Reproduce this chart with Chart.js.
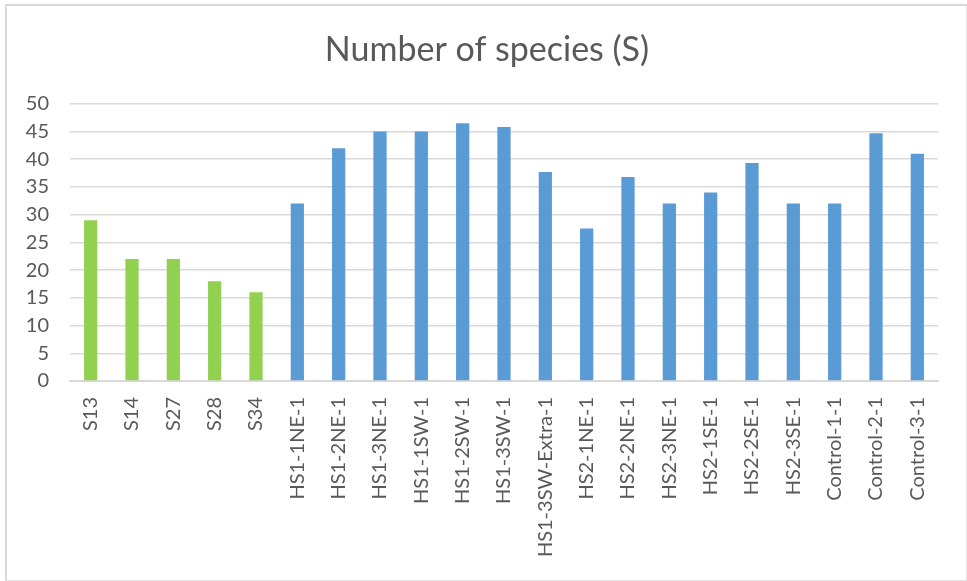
<!DOCTYPE html>
<html lang="en">
<head>
    <meta charset="UTF-8">
    <title>Number of species (S)</title>
    <script src="https://cdn.jsdelivr.net/npm/chart.js"></script>
    <style>
        body {
            margin: 0;
            background-color: white;
        }
        .wrap {
            position: relative;
            width: 967px;
            height: 581px;
        }
        .frame {
            position: absolute;
            left: 5px;
            top: 4px;
            right: 0;
            bottom: 0;
            border-left: 2px solid #d9d9d9;
            border-top: 2px solid #d9d9d9;
            border-right: 1px solid #e3e3e3;
            border-bottom: 1px solid #e3e3e3;
            pointer-events: none;
        }
        canvas {
            position: absolute;
            left: 0;
            top: 0;
        }
    </style>
</head>
<body>

    <div class="wrap">
        <canvas id="speciesChart" width="967" height="581"></canvas>
        <div class="frame"></div>
    </div>

    <script>
        // sample names, in the order they appear on the x axis
        const samples = ['S13', 'S14', 'S27', 'S28', 'S34',
            'HS1-1NE-1', 'HS1-2NE-1', 'HS1-3NE-1', 'HS1-1SW-1', 'HS1-2SW-1', 'HS1-3SW-1', 'HS1-3SW-Extra-1',
            'HS2-1NE-1', 'HS2-2NE-1', 'HS2-3NE-1', 'HS2-1SE-1', 'HS2-2SE-1', 'HS2-3SE-1',
            'Control-1-1', 'Control-2-1', 'Control-3-1'];
        // number of species
        const speciesCount = [29, 22, 22, 18, 16,
            32, 42, 45, 45, 46.5, 45.8, 37.7,
            27.5, 36.8, 32, 34, 39.3, 32,
            32, 44.7, 41];
        // the first samples (S..) are drawn green, the rest blue
        const greenSamples = ['S13', 'S14', 'S27', 'S28', 'S34'];
        const yTicks = [0, 5, 10, 15, 20, 25, 30, 35, 40, 45, 50];

        const textColor = '#595959';
        const gridColor = '#d9d9d9';

        const barColors = samples.map(s => greenSamples.includes(s) ? '#92d050' : '#5b9bd5');

        const ctx = document.getElementById('speciesChart').getContext('2d');

        const config = {
            type: 'bar',
            data: {
                labels: samples,
                datasets: [{
                    label: 'Number of species (S)',
                    data: speciesCount,
                    backgroundColor: barColors,
                    categoryPercentage: 1,
                    barPercentage: 0.32
                }]
            },
            options: {
                responsive: false,
                animation: false,
                layout: {
                    padding: { left: 7, right: 0, top: 0, bottom: 0 }
                },
                scales: {
                    x: {
                        grid: { display: false, drawTicks: false },
                        border: { display: true, color: gridColor, width: 2 },
                        ticks: {
                            color: textColor,
                            font: { family: 'Lato', size: 20 },
                            minRotation: 90,
                            maxRotation: 90,
                            autoSkip: false,
                            padding: 16
                        },
                        afterFit: (scale) => { scale.height = 200; }
                    },
                    y: {
                        min: 0,
                        max: 50,
                        afterBuildTicks: (scale) => { scale.ticks = yTicks.map(v => ({ value: v })); },
                        grid: { color: gridColor, lineWidth: 1.5, drawTicks: false },
                        border: { display: false },
                        ticks: {
                            color: textColor,
                            font: { family: 'Lato', size: 20 },
                            padding: 21
                        },
                        afterFit: (scale) => { scale.width = 63; }
                    },
                    // empty right-hand axis, only keeps the plot clear of the right edge
                    yRight: {
                        position: 'right',
                        min: 0,
                        max: 50,
                        grid: { display: false, drawTicks: false },
                        border: { display: false },
                        ticks: { display: false },
                        afterFit: (scale) => { scale.width = 29; }
                    }
                },
                plugins: {
                    legend: { display: false },
                    tooltip: { enabled: false },
                    title: {
                        display: true,
                        text: 'Number of species (S)',
                        color: textColor,
                        font: { family: 'Lato', size: 34, weight: 'normal', lineHeight: 1.2 },
                        padding: { top: 30, bottom: 33 }
                    }
                }
            }
        };
        const speciesChart = new Chart(ctx, config);
    </script>

</body>
</html>
